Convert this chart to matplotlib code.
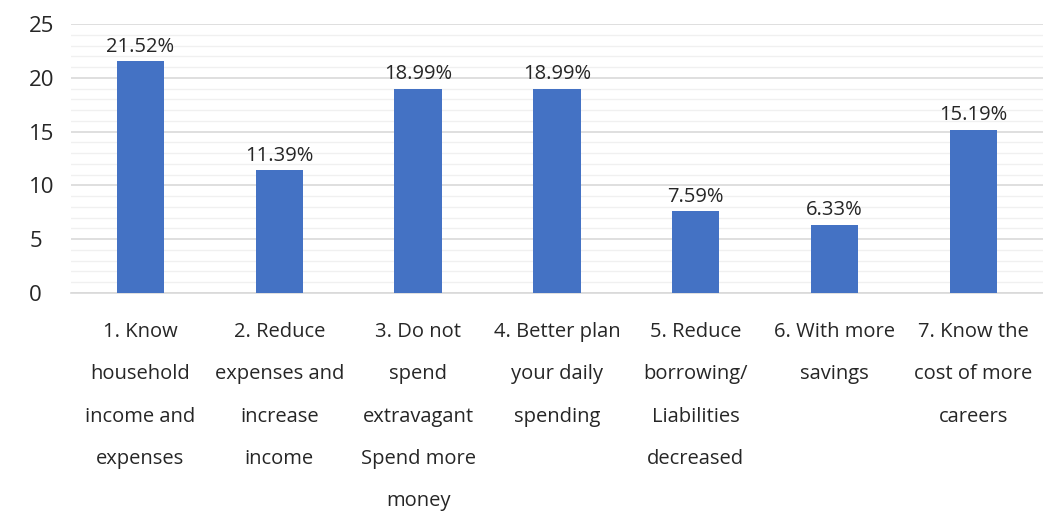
import matplotlib.pyplot as plt
from matplotlib.ticker import MultipleLocator

# Dữ liệu biểu đồ
categories = [
    "1. Know\nhousehold\nincome and\nexpenses",
    "2. Reduce\nexpenses and\nincrease\nincome",
    "3. Do not\nspend\nextravagant\nSpend more\nmoney",
    "4. Better plan\nyour daily\nspending",
    "5. Reduce\nborrowing/\nLiabilities\ndecreased",
    "6. With more\nsavings",
    "7. Know the\ncost of more\ncareers",
]
values = [21.52, 11.39, 18.99, 18.99, 7.59, 6.33, 15.19]

plt.rcParams['font.family'] = ['Open Sans', 'DejaVu Sans']

fig = plt.figure(figsize=(10.43, 5.11), dpi=100)
ax = fig.add_axes([0.068, 0.4266, 0.932, 0.5264])

x = range(len(values))
ax.bar(x, values, width=0.34, color="#4472C4", zorder=3)

# Nhãn giá trị trên cột
for xi, v in zip(x, values):
    ax.text(xi, v + 0.45, f"{v:.2f}%", ha="center", va="bottom",
            fontsize=14.5, color="#262626")

ax.set_xlim(-0.5, len(values) - 0.5)
ax.set_ylim(0, 25)
ax.yaxis.set_major_locator(MultipleLocator(5))
ax.yaxis.set_minor_locator(MultipleLocator(1))
ax.grid(axis="y", which="major", color="#D9D9D9", linewidth=1.2, zorder=0)
ax.grid(axis="y", which="minor", color="#F0F0F0", linewidth=1.0, zorder=0)

ax.set_xticks(list(x))
ax.set_xticklabels(categories, fontsize=14.5, color="#262626", linespacing=2.48,
                   va="top")
ax.tick_params(axis="x", length=0, pad=21)
ax.tick_params(axis="y", which="both", length=0, labelsize=16, labelcolor="#262626", pad=30)
for lbl in ax.get_yticklabels():
    lbl.set_horizontalalignment("left")

for s in ["top", "right", "left"]:
    ax.spines[s].set_visible(False)
ax.spines["bottom"].set_color("#D9D9D9")
ax.spines["bottom"].set_linewidth(1.2)

fig.savefig("out.png", dpi=100)
